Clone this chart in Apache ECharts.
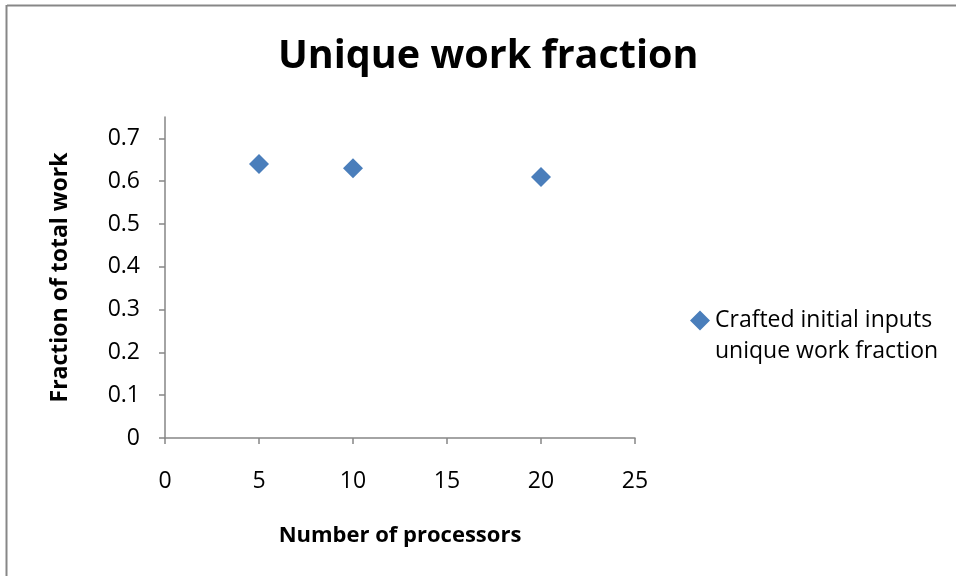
<!DOCTYPE html>
<html>
<head>
<meta charset="utf-8">
<script src="https://cdn.jsdelivr.net/npm/echarts@6/dist/echarts.min.js"></script>
<style>
  html, body { margin: 0; padding: 0; background: #ffffff; }
  #chart { width: 956px; height: 576px; }
</style>
</head>
<body>
<div id="chart"></div>
<script>
// Number of processors and the measured unique-work fraction at each
const processors = [5, 10, 20];
const uniqueFraction = [0.64, 0.63, 0.61];
const seriesName = 'Crafted initial inputs\nunique work fraction';

// Axis ticks
const xTicks = [0, 5, 10, 15, 20, 25];
const yTicks = [0, 0.1, 0.2, 0.3, 0.4, 0.5, 0.6, 0.7];

const FONT = '"Open Sans", "Noto Sans", sans-serif';
const AXIS_GRAY = '#868686';
const MARKER_BLUE = '#4A7EBB';

// Legend marker: a diamond at the top of a tall box, so it sits beside the first text line
const LEGEND_ICON = 'path://M10,0L20,10L10,20L0,10Z M10,51L10.01,51';

const chart = echarts.init(document.getElementById('chart'), null, { renderer: 'canvas' });

chart.setOption({
  backgroundColor: '#ffffff',
  animation: false,
  title: {
    text: 'Unique work fraction',
    left: 278,
    top: 37,
    padding: 0,
    textStyle: { fontFamily: FONT, fontWeight: 'bold', fontSize: 39.5, color: '#000000' }
  },
  legend: {
    left: 690,
    top: 305,
    padding: 0,
    itemWidth: 20,
    itemHeight: 51,
    icon: LEGEND_ICON,
    textStyle: { fontFamily: FONT, fontSize: 23, color: '#000000', lineHeight: 31 },
    data: [seriesName]
  },
  grid: { left: 165, right: 321, top: 117, bottom: 138, containLabel: false },
  xAxis: {
    type: 'value',
    min: xTicks[0],
    max: xTicks[xTicks.length - 1],
    interval: 5,
    name: 'Number of processors',
    nameLocation: 'middle',
    nameGap: 87,
    nameTextStyle: { fontFamily: FONT, fontWeight: 'bold', fontSize: 22, color: '#000000' },
    axisLine: { lineStyle: { color: AXIS_GRAY, width: 1.5 } },
    axisTick: { length: 6, lineStyle: { color: AXIS_GRAY, width: 1.5 } },
    axisLabel: { fontFamily: FONT, fontSize: 23, color: '#000000', margin: 32 },
    splitLine: { show: false }
  },
  yAxis: {
    type: 'value',
    min: 0,
    max: 0.75,
    name: 'Fraction of total work',
    nameLocation: 'middle',
    nameGap: 93,
    nameTextStyle: { fontFamily: FONT, fontWeight: 'bold', fontSize: 23, color: '#000000' },
    axisLine: { show: true, lineStyle: { color: AXIS_GRAY, width: 1.5 } },
    axisTick: { show: true, length: 6, customValues: yTicks, lineStyle: { color: AXIS_GRAY, width: 1.5 } },
    axisLabel: {
      fontFamily: FONT, fontSize: 23, color: '#000000', margin: 25,
      customValues: yTicks,
      formatter: v => String(Math.round(v * 10) / 10)
    },
    splitLine: { show: false }
  },
  series: [{
    name: seriesName,
    type: 'scatter',
    symbol: 'diamond',
    symbolSize: 20,
    itemStyle: { color: MARKER_BLUE, opacity: 1 },
    data: processors.map((p, i) => [p, uniqueFraction[i]])
  }],
  graphic: [
    // chart frame, top and left edges
    { type: 'line', shape: { x1: 7, y1: 5.5, x2: 956, y2: 5.5 }, style: { stroke: '#878787', lineWidth: 2 } },
    { type: 'line', shape: { x1: 6.5, y1: 5, x2: 6.5, y2: 576 }, style: { stroke: '#878787', lineWidth: 2 } }
  ]
});
</script>
</body>
</html>
